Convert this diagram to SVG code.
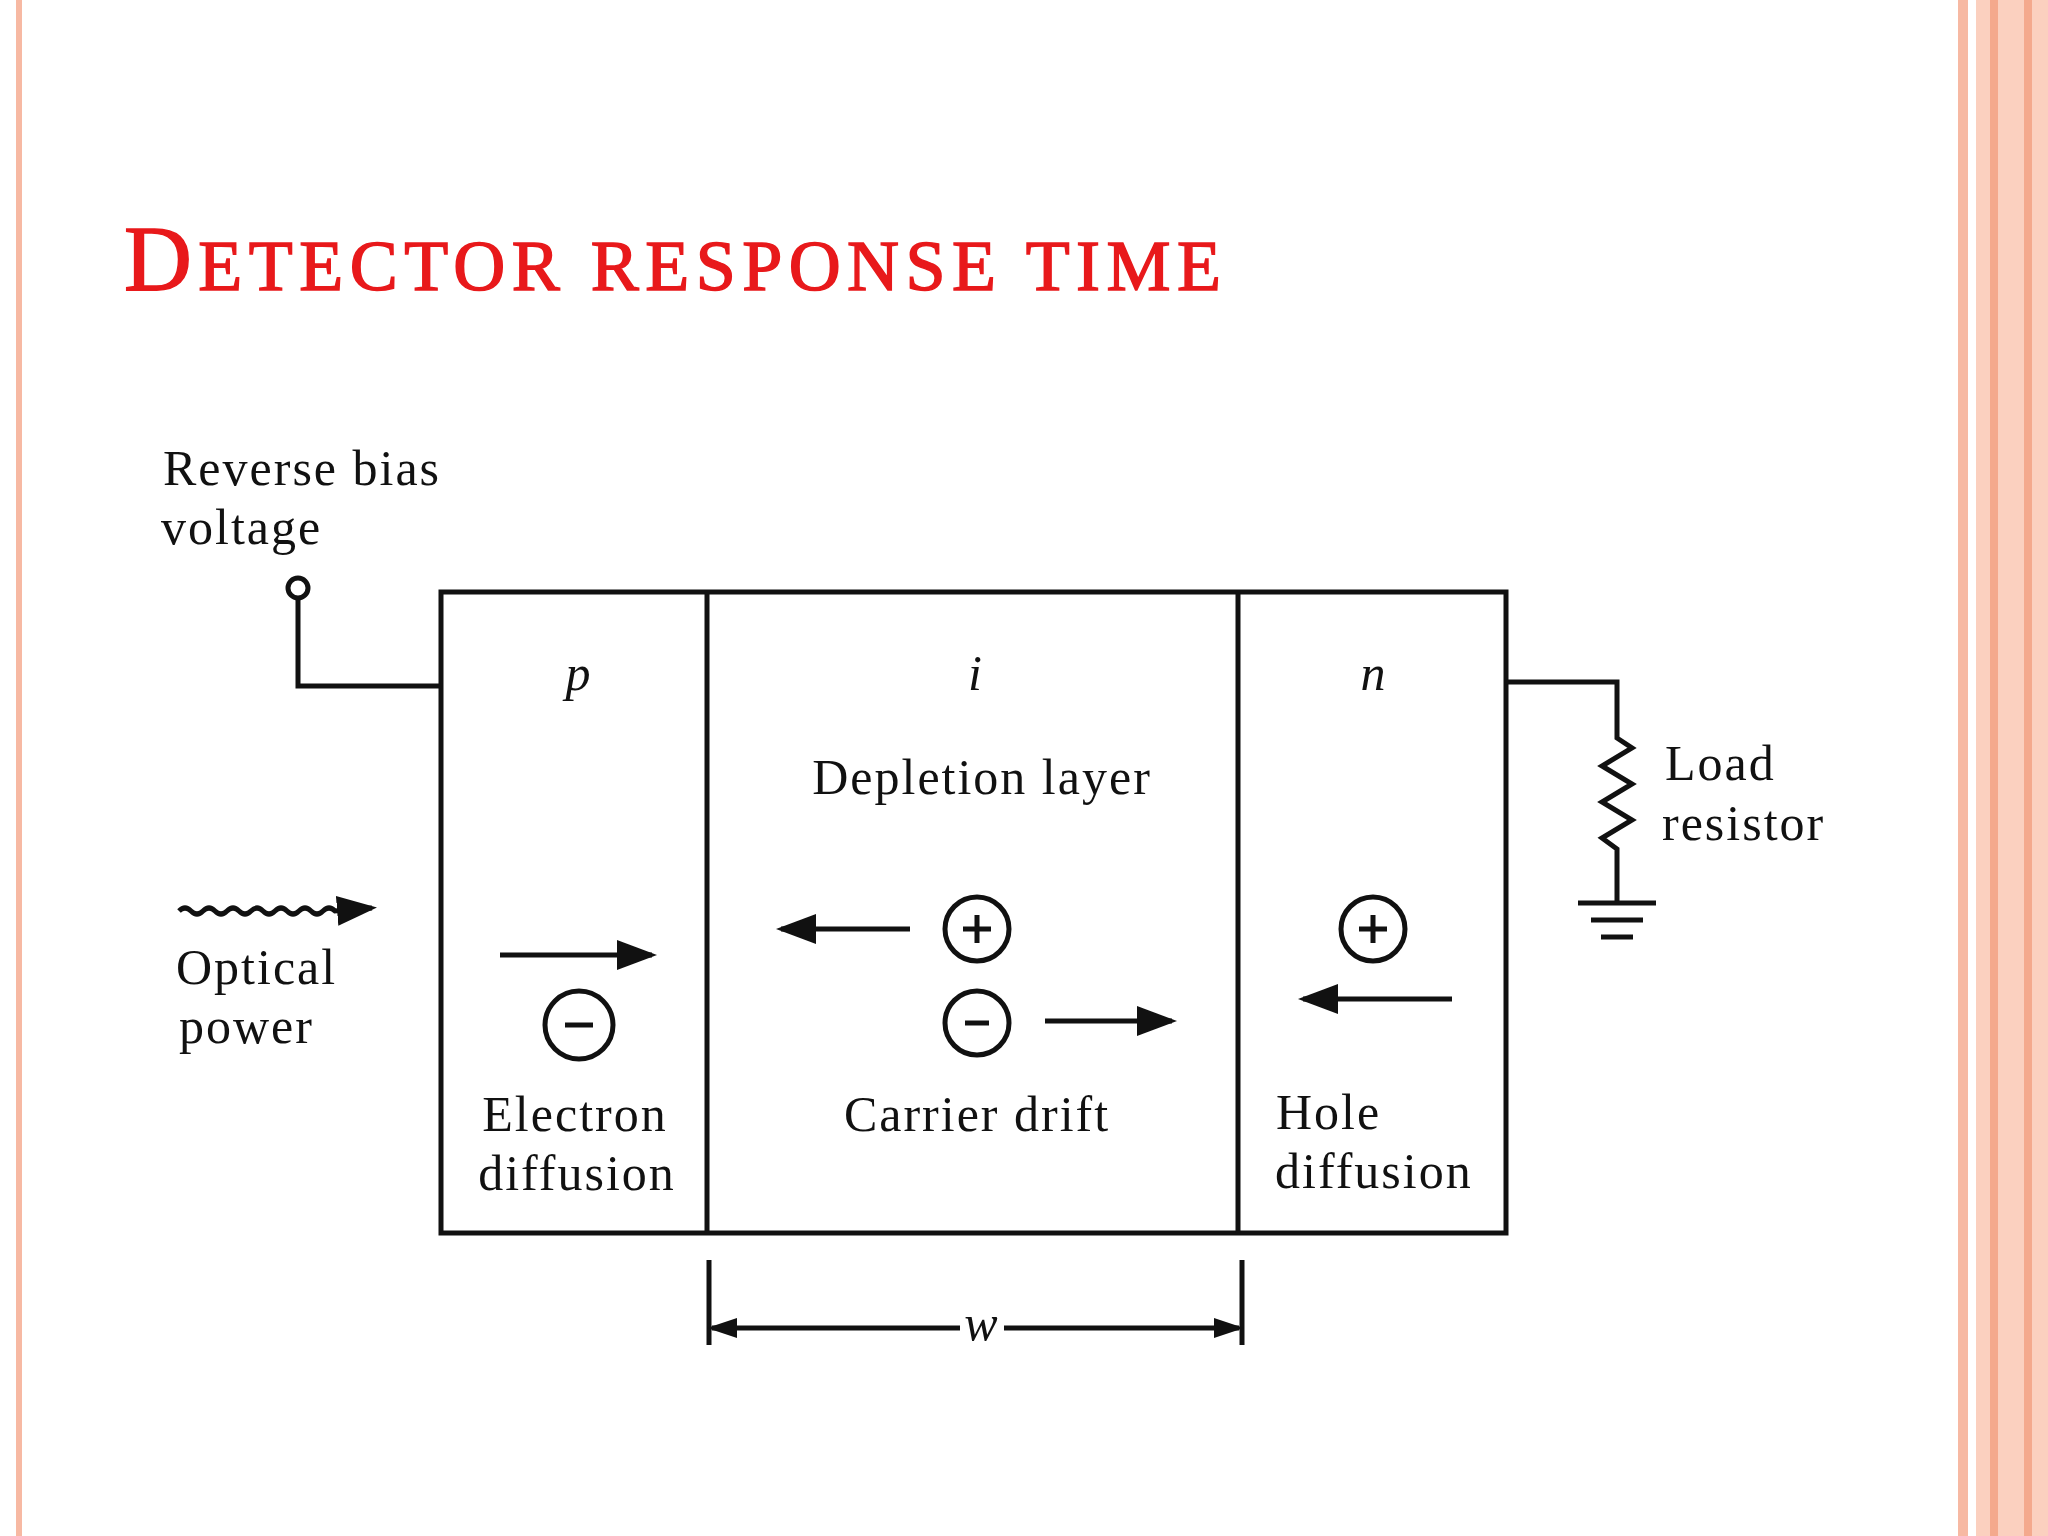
<svg xmlns="http://www.w3.org/2000/svg" width="2048" height="1536" viewBox="0 0 2048 1536">
<defs>
<style>
.t{font-family:"Liberation Serif","DejaVu Serif",serif;font-size:50px;fill:#111;letter-spacing:2px}
.l{stroke:#111;stroke-width:5;fill:none}
.c{stroke:#111;stroke-width:5;fill:#fff}
</style>
<marker id="ah" markerWidth="8" markerHeight="6" refX="7" refY="3" orient="auto" markerUnits="strokeWidth"><path d="M0,0 L8,3 L0,6 Z" fill="#111"/></marker>
<marker id="sh" markerWidth="6" markerHeight="4" refX="5" refY="2" orient="auto-start-reverse" markerUnits="strokeWidth"><path d="M0,0 L6,2 L0,4 Z" fill="#111"/></marker>
</defs>
<rect width="2048" height="1536" fill="#fff"/>
<rect x="16" y="0" width="6" height="1536" fill="#f7b9a3"/>
<rect x="1958" y="0" width="10" height="1536" fill="#f7b9a3"/>
<rect x="1976" y="0" width="72" height="1536" fill="#fbd0bf"/>
<rect x="1990" y="0" width="8" height="1536" fill="#f4a98d"/>
<rect x="2024" y="0" width="8" height="1536" fill="#f4a98d"/>
<text x="124" y="290" font-family="Liberation Serif,serif" fill="#e8191b" font-size="94" stroke="#e8191b" stroke-width="1.5" textLength="1097" lengthAdjust="spacing">D<tspan font-size="72">ETECTOR RESPONSE TIME</tspan></text>

<g id="device">
<rect x="441" y="592" width="1065" height="641" class="l"/>
<line x1="707" y1="592" x2="707" y2="1233" class="l"/>
<line x1="1238" y1="592" x2="1238" y2="1233" class="l"/>
</g>
<g id="labels">
<text class="t" x="163" y="485">Reverse bias</text>
<text class="t" x="161" y="544">voltage</text>
<text class="t" x="579" y="690" font-style="italic" text-anchor="middle">p</text>
<text class="t" x="976" y="690" font-style="italic" text-anchor="middle">i</text>
<text class="t" x="1374" y="690" font-style="italic" text-anchor="middle">n</text>
<text class="t" x="982" y="794" text-anchor="middle">Depletion layer</text>
<text class="t" x="1665" y="780">Load</text>
<text class="t" x="1662" y="840">resistor</text>
<text class="t" x="176" y="984">Optical</text>
<text class="t" x="179" y="1043">power</text>
<text class="t" x="575" y="1131" text-anchor="middle">Electron</text>
<text class="t" x="577" y="1190" text-anchor="middle">diffusion</text>
<text class="t" x="977" y="1131" text-anchor="middle">Carrier drift</text>
<text class="t" x="1276" y="1129">Hole</text>
<text class="t" x="1275" y="1188">diffusion</text>
<text class="t" x="982" y="1340" text-anchor="middle" font-style="italic">w</text>
</g>
<g id="carriers">
<circle cx="579" cy="1025" r="34" class="c"/><line x1="565" y1="1025" x2="593" y2="1025" class="l" stroke-width="3"/>
<circle cx="977" cy="929" r="32" class="c"/><path d="M977,915 V943 M963,929 H991" class="l" stroke-width="4"/>
<circle cx="977" cy="1023" r="32" class="c"/><line x1="965" y1="1023" x2="989" y2="1023" class="l" stroke-width="3"/>
<circle cx="1373" cy="929" r="32" class="c"/><path d="M1373,915 V943 M1359,929 H1387" class="l" stroke-width="4"/>
</g>
<g id="connectors">
<circle cx="298" cy="588" r="10" class="c" stroke-width="4"/>
<polyline points="298,598 298,686 441,686" class="l"/>
<polyline points="1506,682 1617,682 1617,738 1632,748 1602,766 1632,784 1602,802 1632,820 1602,838 1617,849 1617,901" class="l"/>
<line x1="1578" y1="903" x2="1656" y2="903" class="l" stroke-width="8"/>
<line x1="1591" y1="920" x2="1643" y2="920" class="l" stroke-width="7"/>
<line x1="1601" y1="937" x2="1633" y2="937" class="l" stroke-width="7"/>
<path d="M179,911 q6,-6 12,0 t12,0 t12,0 t12,0 t12,0 t12,0 t12,0 t12,0 t12,0 t12,0 t12,0 t12,0 t12,0 L372,908" class="l" stroke-width="4" marker-end="url(#ah)"/>
<line x1="500" y1="955" x2="652" y2="955" class="l" marker-end="url(#ah)"/>
<line x1="910" y1="929" x2="781" y2="929" class="l" stroke-width="6" marker-end="url(#ah)"/>
<line x1="1045" y1="1021" x2="1172" y2="1021" class="l" marker-end="url(#ah)"/>
<line x1="1452" y1="999" x2="1303" y2="999" class="l" stroke-width="6" marker-end="url(#ah)"/>
<line x1="709" y1="1260" x2="709" y2="1345" class="l" stroke-width="4"/>
<line x1="1242" y1="1260" x2="1242" y2="1345" class="l" stroke-width="4"/>
<line x1="712" y1="1328" x2="960" y2="1328" class="l" stroke-width="3" marker-start="url(#sh)"/>
<line x1="1004" y1="1328" x2="1239" y2="1328" class="l" stroke-width="3" marker-end="url(#sh)"/>
</g>
</svg>
